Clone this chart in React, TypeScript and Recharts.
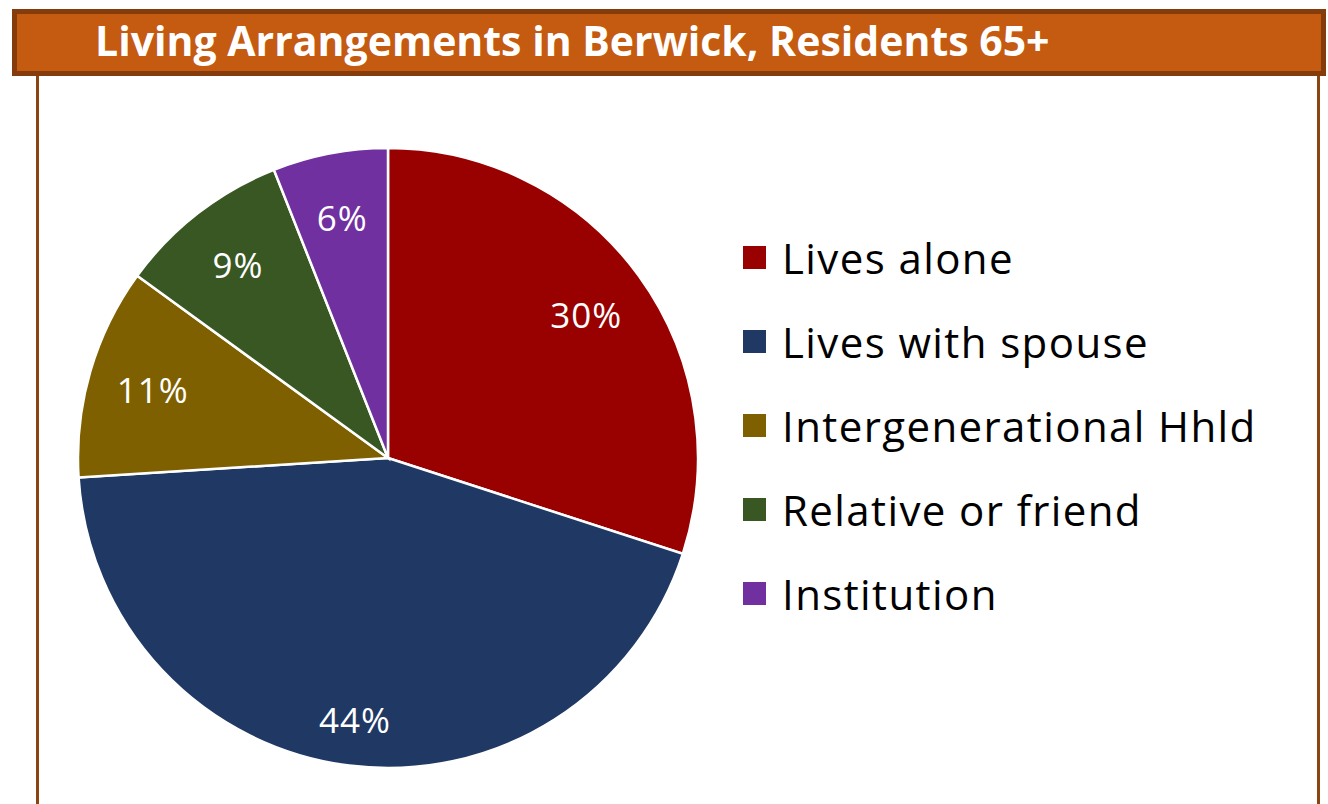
import { PieChart, Pie, Cell } from 'recharts'

const categories = [
  'Lives alone',
  'Lives with spouse',
  'Intergenerational Hhld',
  'Relative or friend',
  'Institution',
]
const shares = [30, 44, 11, 9, 6]
const colors = ['#990000', '#203864', '#7F6000', '#385723', '#7030A0']

const data = categories.map((name, i) => ({ name, value: shares[i] }))

const RAD = Math.PI / 180
const FONT = "'Open Sans', Lato, sans-serif"

function renderLabel(props: any) {
  const { cx, cy, midAngle, outerRadius, value, index } = props
  // Excel pushes the big bottom slice label a bit further out
  const r = outerRadius * (index === 1 ? 0.85 : 0.79)
  const x = cx + r * Math.cos(-midAngle * RAD)
  const y = cy + r * Math.sin(-midAngle * RAD)
  return (
    <text
      x={x}
      y={y}
      fill="#fff"
      fontSize={35}
      letterSpacing={1}
      fontFamily={FONT}
      textAnchor="middle"
      dominantBaseline="central"
    >
      {`${value}%`}
    </text>
  )
}

export default function App() {
  return (
    <div
      style={{
        position: 'fixed',
        left: 0,
        top: 0,
        width: 1328,
        height: 804,
        background: '#fff',
        overflow: 'hidden',
      }}
    >
      {/* box lines under the title */}
      <div
        style={{
          position: 'absolute',
          left: 36,
          top: 70,
          width: 1278,
          height: 760,
          borderLeft: '3px solid #8B4513',
          borderRight: '3px solid #8B4513',
        }}
      />
      <div
        style={{
          position: 'absolute',
          left: 12,
          top: 9,
          width: 1314,
          height: 67,
          boxSizing: 'border-box',
          background: '#C55A11',
          border: '5px solid #843C0C',
          color: '#fff',
          fontFamily: FONT,
          fontWeight: 700,
          fontSize: 41,
          lineHeight: '53px',
          paddingLeft: 78,
          whiteSpace: 'nowrap',
        }}
      >
        Living Arrangements in Berwick, Residents 65+
      </div>
      <div style={{ position: 'absolute', left: 0, top: 0 }}>
        <PieChart
          width={1328}
          height={804}
          margin={{ top: 0, right: 0, bottom: 0, left: 0 }}
        >
          <Pie
            data={data}
            dataKey="value"
            nameKey="name"
            cx={388}
            cy={458}
            outerRadius={310}
            startAngle={90}
            endAngle={-270}
            stroke="#fff"
            strokeWidth={2.5}
            label={renderLabel}
            labelLine={false}
            isAnimationActive={false}
          >
            {data.map((d, i) => (
              <Cell key={d.name} fill={colors[i]} />
            ))}
          </Pie>
        </PieChart>
      </div>
      <div style={{ position: 'absolute', left: 743, top: 215 }}>
        {categories.map((name, i) => (
          <div
            key={name}
            style={{ display: 'flex', alignItems: 'center', height: 84 }}
          >
            <span
              style={{
                width: 23,
                height: 23,
                background: colors[i],
                marginRight: 16,
                display: 'inline-block',
              }}
            />
            <span
              style={{
                fontFamily: FONT,
                fontSize: 42,
                letterSpacing: 1.4,
                color: '#000',
                whiteSpace: 'nowrap',
              }}
            >
              {name}
            </span>
          </div>
        ))}
      </div>
    </div>
  )
}
